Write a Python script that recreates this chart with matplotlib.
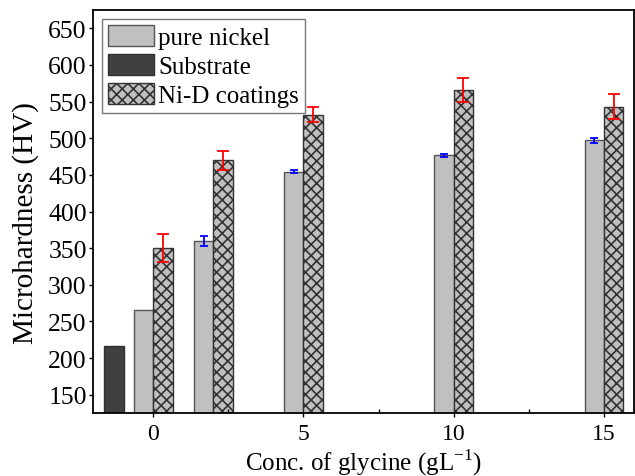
import matplotlib
matplotlib.use('Agg')
import matplotlib.pyplot as plt
import numpy as np
from matplotlib.ticker import MultipleLocator

plt.rcParams['font.family'] = 'Liberation Serif'
plt.rcParams['mathtext.fontset'] = 'custom'
plt.rcParams['mathtext.rm'] = 'Liberation Serif'
plt.rcParams['hatch.linewidth'] = 1.2

# Data
conc = [0, 2, 5, 10, 15]
pure_nickel = [265, 360, 454, 477, 497]
pure_nickel_err = [0, 7, 2, 2, 3.5]
nid = [350, 470, 532, 566, 543]
nid_err = [19, 13, 10, 16, 17]
substrate_x = [-1.3]
substrate = [216]

x = np.array(conc, dtype=float)
w = 0.645

fig = plt.figure(figsize=(6.35, 4.77), dpi=100)
ax = fig.add_axes([0.1465, 0.132, 0.852, 0.845])

ax.bar(x - w / 2, pure_nickel, w, color='#c0c0c0', edgecolor='#555555',
       linewidth=1, label='pure nickel')
ax.bar(substrate_x, substrate, w, color='#404040', edgecolor='#303030',
       linewidth=1, label='Substrate')
ax.bar(x + w / 2, nid, w, color='#c0c0c0', edgecolor='#333333',
       hatch='xxx', linewidth=1, label='Ni-D coatings')

# error bars (pure nickel at 0 has none)
ax.errorbar(x[1:] - w / 2, pure_nickel[1:], yerr=pure_nickel_err[1:], fmt='none',
            ecolor='blue', elinewidth=1.3, capsize=3, capthick=1.3)
ax.errorbar(x + w / 2, nid, yerr=nid_err, fmt='none',
            ecolor='red', elinewidth=1.3, capsize=4.5, capthick=1.3)

ax.set_xlim(-2, 16)
ax.set_ylim(125, 675)
ax.set_xticks([0, 5, 10, 15])
ax.xaxis.set_minor_locator(MultipleLocator(2.5))
ax.set_yticks(np.arange(150, 651, 50))
ax.tick_params(axis='both', which='major', direction='out', length=3, width=1)
ax.tick_params(axis='x', which='major', labelsize=17, pad=4)
ax.tick_params(axis='y', which='major', labelsize=18.5, pad=1.5)
ax.tick_params(axis='x', which='minor', direction='in', length=3, width=1)
for s in ax.spines.values():
    s.set_linewidth(1.3)

ax.set_xlabel('Conc. of glycine (gL$^{\\mathregular{-1}}$)', fontsize=18, labelpad=2)
ax.set_ylabel('Microhardness (HV)', fontsize=21)
ax.yaxis.set_label_coords(-0.1, 0.475)

leg = ax.legend(loc='upper left', fontsize=18, handlelength=1.85, handleheight=0.9,
                handletextpad=0.15, labelspacing=0.2, borderpad=0.25,
                borderaxespad=0.35, fancybox=False, framealpha=1,
                edgecolor='#777777')
leg.get_frame().set_linewidth(1)

fig.savefig('out.png', dpi=100)
